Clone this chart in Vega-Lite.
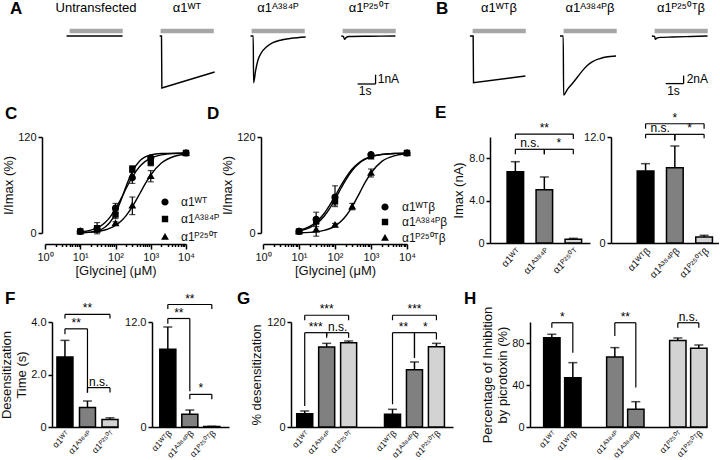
{
"$schema": "https://vega.github.io/schema/vega-lite/v6.json",
"background": "white",
"padding": {"left": 0, "top": 0, "right": 0, "bottom": 0},
"bounds": "flush",
"spacing": 293,
"resolve": {"scale": {"shape": "independent"}, "legend": {"shape": "independent"}},
"config": {
  "view": {"stroke": null},
  "font": "Liberation Sans",
  "axis": {"domainColor": "black", "domainWidth": 1.5, "tickColor": "black", "tickWidth": 1.5, "tickSize": 4, "labelFont": "Liberation Sans", "labelFontSize": 11, "labelColor": "#111", "labelPadding": 2, "labelOverlap": false, "labelSeparation": 0, "labelBound": false, "titleFont": "Liberation Sans", "titleFontSize": 13, "titleFontWeight": "normal", "titleColor": "#111", "titlePadding": 3, "grid": false},
  "title": {"anchor": "start", "frame": "group", "font": "Liberation Sans", "fontSize": 17, "fontWeight": "bold", "color": "black", "baseline": "bottom"},
  "text": {"font": "Liberation Sans", "color": "black"}
},
"datasets": {
  "traces": [
    {"p":"U","t":-0.17,"i":0},{"p":"U","t":2.94,"i":0},
    {"p":"W","t":-0.05,"i":0},{"p":"W","t":0.05,"i":0},{"p":"W","t":0.07,"i":-5.59},{"p":"W","t":3.0,"i":-3.87},
    {"p":"A","t":-0.06,"i":0},{"p":"A","t":0.09,"i":0},{"p":"A","t":0.11,"i":-5.02},{"p":"A","t":0.22,"i":-3.76},{"p":"A","t":0.35,"i":-2.61},{"p":"A","t":0.54,"i":-1.8},{"p":"A","t":0.82,"i":-1.18},{"p":"A","t":1.18,"i":-0.72},{"p":"A","t":1.65,"i":-0.43},{"p":"A","t":2.2,"i":-0.25},{"p":"A","t":3.0,"i":-0.11},
    {"p":"P","t":-0.07,"i":0},{"p":"P","t":0.04,"i":-0.05},{"p":"P","t":0.11,"i":-0.36},{"p":"P","t":0.2,"i":-0.15},{"p":"P","t":0.35,"i":-0.06},{"p":"P","t":1.5,"i":-0.03},{"p":"P","t":2.93,"i":0},
    {"p":"Wb","t":-0.15,"i":0},{"p":"Wb","t":0.03,"i":0},{"p":"Wb","t":0.05,"i":-11.7},{"p":"Wb","t":2.93,"i":-10.0},
    {"p":"Ab","t":-0.2,"i":0},{"p":"Ab","t":-0.02,"i":0},{"p":"Ab","t":0.0,"i":-14.75},{"p":"Ab","t":0.22,"i":-13.3},{"p":"Ab","t":0.5,"i":-11.8},{"p":"Ab","t":0.78,"i":-10.2},{"p":"Ab","t":1.06,"i":-8.6},{"p":"Ab","t":1.33,"i":-7.3},{"p":"Ab","t":1.61,"i":-6.4},{"p":"Ab","t":1.98,"i":-5.7},{"p":"Ab","t":2.35,"i":-5.25},{"p":"Ab","t":2.91,"i":-5.0},
    {"p":"Pb","t":-0.15,"i":0},{"p":"Pb","t":0.0,"i":-0.1},{"p":"Pb","t":0.04,"i":-0.83},{"p":"Pb","t":0.15,"i":-0.45},{"p":"Pb","t":0.3,"i":-0.35},{"p":"Pb","t":1.0,"i":-0.25},{"p":"Pb","t":2.0,"i":-0.12},{"p":"Pb","t":2.94,"i":0}
  ],
  "stim": [{"row":"A","t0":0,"t1":2.95,"i":0.54},{"row":"B","t0":0,"t1":2.95,"i":1.25}],
  "sbar": [{"row":"A","t0":0.83,"t1":1.83,"i0":-5.16,"i1":-4.16},{"row":"B","t0":0.61,"t1":1.61,"i0":-11.9,"i1":-9.9}],
  "slab": [{"row":"A","lab":"1nA","t":1.95,"i":-4.66,"k":"v"},{"row":"A","lab":"1s","t":1.25,"i":-5.37,"k":"h"},{"row":"B","lab":"2nA","t":1.78,"i":-10.7,"k":"v"},{"row":"B","lab":"1s","t":1.05,"i":-12.5,"k":"h"}],
  "curvesC": [
    {"g":"α1ᵂᵀ","c":10,"v":1.2},{"g":"α1ᵂᵀ","c":20,"v":3.5},{"g":"α1ᵂᵀ","c":30,"v":6.3},{"g":"α1ᵂᵀ","c":50,"v":12.9},{"g":"α1ᵂᵀ","c":70,"v":19.9},{"g":"α1ᵂᵀ","c":100,"v":30.1},{"g":"α1ᵂᵀ","c":150,"v":44.5},{"g":"α1ᵂᵀ","c":200,"v":55.6},{"g":"α1ᵂᵀ","c":300,"v":70.0},{"g":"α1ᵂᵀ","c":500,"v":83.7},{"g":"α1ᵂᵀ","c":700,"v":89.6},{"g":"α1ᵂᵀ","c":1000,"v":93.7},{"g":"α1ᵂᵀ","c":2000,"v":97.7},{"g":"α1ᵂᵀ","c":5000,"v":99.4},{"g":"α1ᵂᵀ","c":10000,"v":99.8},
    {"g":"α1ᴬ³⁸⁴ᴾ","c":10,"v":0.3},{"g":"α1ᴬ³⁸⁴ᴾ","c":20,"v":1.1},{"g":"α1ᴬ³⁸⁴ᴾ","c":30,"v":2.5},{"g":"α1ᴬ³⁸⁴ᴾ","c":50,"v":7.1},{"g":"α1ᴬ³⁸⁴ᴾ","c":70,"v":13.4},{"g":"α1ᴬ³⁸⁴ᴾ","c":100,"v":24.7},{"g":"α1ᴬ³⁸⁴ᴾ","c":150,"v":43.5},{"g":"α1ᴬ³⁸⁴ᴾ","c":200,"v":58.4},{"g":"α1ᴬ³⁸⁴ᴾ","c":300,"v":76.7},{"g":"α1ᴬ³⁸⁴ᴾ","c":500,"v":90.6},{"g":"α1ᴬ³⁸⁴ᴾ","c":700,"v":95.1},{"g":"α1ᴬ³⁸⁴ᴾ","c":1000,"v":97.6},{"g":"α1ᴬ³⁸⁴ᴾ","c":2000,"v":99.4},{"g":"α1ᴬ³⁸⁴ᴾ","c":5000,"v":99.9},{"g":"α1ᴬ³⁸⁴ᴾ","c":10000,"v":100},
    {"g":"α1ᴾ²⁵⁰ᵀ","c":10,"v":0.4},{"g":"α1ᴾ²⁵⁰ᵀ","c":20,"v":1.1},{"g":"α1ᴾ²⁵⁰ᵀ","c":30,"v":1.9},{"g":"α1ᴾ²⁵⁰ᵀ","c":50,"v":3.8},{"g":"α1ᴾ²⁵⁰ᵀ","c":70,"v":6.0},{"g":"α1ᴾ²⁵⁰ᵀ","c":100,"v":9.5},{"g":"α1ᴾ²⁵⁰ᵀ","c":150,"v":15.6},{"g":"α1ᴾ²⁵⁰ᵀ","c":200,"v":21.7},{"g":"α1ᴾ²⁵⁰ᵀ","c":300,"v":32.9},{"g":"α1ᴾ²⁵⁰ᵀ","c":500,"v":50},{"g":"α1ᴾ²⁵⁰ᵀ","c":700,"v":61.6},{"g":"α1ᴾ²⁵⁰ᵀ","c":1000,"v":72.5},{"g":"α1ᴾ²⁵⁰ᵀ","c":2000,"v":87.4},{"g":"α1ᴾ²⁵⁰ᵀ","c":5000,"v":96.2},{"g":"α1ᴾ²⁵⁰ᵀ","c":10000,"v":98.5}
  ],
  "ptsC": [
    {"g":"α1ᵂᵀ","c":10,"v":2},{"g":"α1ᵂᵀ","c":30,"v":5},{"g":"α1ᵂᵀ","c":100,"v":31},{"g":"α1ᵂᵀ","c":300,"v":69},{"g":"α1ᵂᵀ","c":1000,"v":94},{"g":"α1ᵂᵀ","c":10000,"v":100},
    {"g":"α1ᴬ³⁸⁴ᴾ","c":10,"v":2},{"g":"α1ᴬ³⁸⁴ᴾ","c":30,"v":6},{"g":"α1ᴬ³⁸⁴ᴾ","c":100,"v":23},{"g":"α1ᴬ³⁸⁴ᴾ","c":300,"v":80},{"g":"α1ᴬ³⁸⁴ᴾ","c":1000,"v":88},{"g":"α1ᴬ³⁸⁴ᴾ","c":10000,"v":100},
    {"g":"α1ᴾ²⁵⁰ᵀ","c":10,"v":2},{"g":"α1ᴾ²⁵⁰ᵀ","c":30,"v":4},{"g":"α1ᴾ²⁵⁰ᵀ","c":100,"v":12},{"g":"α1ᴾ²⁵⁰ᵀ","c":300,"v":34},{"g":"α1ᴾ²⁵⁰ᵀ","c":1000,"v":71},{"g":"α1ᴾ²⁵⁰ᵀ","c":10000,"v":100}
  ],
  "errC": [
    {"g":"α1ᵂᵀ","c":30,"lo":2,"hi":8},{"g":"α1ᴬ³⁸⁴ᴾ","c":30,"lo":-1,"hi":13},{"g":"α1ᴾ²⁵⁰ᵀ","c":30,"lo":1,"hi":7},
    {"g":"α1ᵂᵀ","c":100,"lo":25,"hi":37},{"g":"α1ᴬ³⁸⁴ᴾ","c":100,"lo":18,"hi":28},{"g":"α1ᴾ²⁵⁰ᵀ","c":100,"lo":10,"hi":14},
    {"g":"α1ᵂᵀ","c":300,"lo":62,"hi":76},{"g":"α1ᴬ³⁸⁴ᴾ","c":300,"lo":76,"hi":84},{"g":"α1ᴾ²⁵⁰ᵀ","c":300,"lo":23,"hi":45},
    {"g":"α1ᵂᵀ","c":1000,"lo":92,"hi":96},{"g":"α1ᴬ³⁸⁴ᴾ","c":1000,"lo":84,"hi":92},{"g":"α1ᴾ²⁵⁰ᵀ","c":1000,"lo":64,"hi":78}
  ],
  "curvesD": [
    {"g":"α1ᵂᵀβ","c":10,"v":3.3},{"g":"α1ᵂᵀβ","c":20,"v":8.2},{"g":"α1ᵂᵀβ","c":30,"v":13.7},{"g":"α1ᵂᵀβ","c":50,"v":24.4},{"g":"α1ᵂᵀβ","c":70,"v":34.1},{"g":"α1ᵂᵀβ","c":100,"v":46.0},{"g":"α1ᵂᵀβ","c":150,"v":60.1},{"g":"α1ᵂᵀβ","c":200,"v":69.3},{"g":"α1ᵂᵀβ","c":300,"v":79.9},{"g":"α1ᵂᵀβ","c":500,"v":89.0},{"g":"α1ᵂᵀβ","c":700,"v":92.9},{"g":"α1ᵂᵀβ","c":1000,"v":95.5},{"g":"α1ᵂᵀβ","c":2000,"v":98.3},{"g":"α1ᵂᵀβ","c":5000,"v":99.5},{"g":"α1ᵂᵀβ","c":10000,"v":99.8},
    {"g":"α1ᴬ³⁸⁴ᴾβ","c":10,"v":2.5},{"g":"α1ᴬ³⁸⁴ᴾβ","c":20,"v":6.6},{"g":"α1ᴬ³⁸⁴ᴾβ","c":30,"v":11.2},{"g":"α1ᴬ³⁸⁴ᴾβ","c":50,"v":20.9},{"g":"α1ᴬ³⁸⁴ᴾβ","c":70,"v":30.1},{"g":"α1ᴬ³⁸⁴ᴾβ","c":100,"v":42.0},{"g":"α1ᴬ³⁸⁴ᴾβ","c":150,"v":56.6},{"g":"α1ᴬ³⁸⁴ᴾβ","c":200,"v":66.4},{"g":"α1ᴬ³⁸⁴ᴾβ","c":300,"v":78.1},{"g":"α1ᴬ³⁸⁴ᴾβ","c":500,"v":88.2},{"g":"α1ᴬ³⁸⁴ᴾβ","c":700,"v":92.4},{"g":"α1ᴬ³⁸⁴ᴾβ","c":1000,"v":95.3},{"g":"α1ᴬ³⁸⁴ᴾβ","c":2000,"v":98.2},{"g":"α1ᴬ³⁸⁴ᴾβ","c":5000,"v":99.5},{"g":"α1ᴬ³⁸⁴ᴾβ","c":10000,"v":99.8},
    {"g":"α1ᴾ²⁵⁰ᵀβ","c":10,"v":0.3},{"g":"α1ᴾ²⁵⁰ᵀβ","c":20,"v":0.8},{"g":"α1ᴾ²⁵⁰ᵀβ","c":30,"v":1.5},{"g":"α1ᴾ²⁵⁰ᵀβ","c":50,"v":3.3},{"g":"α1ᴾ²⁵⁰ᵀβ","c":70,"v":5.3},{"g":"α1ᴾ²⁵⁰ᵀβ","c":100,"v":8.7},{"g":"α1ᴾ²⁵⁰ᵀβ","c":150,"v":14.9},{"g":"α1ᴾ²⁵⁰ᵀβ","c":200,"v":21.2},{"g":"α1ᴾ²⁵⁰ᵀβ","c":300,"v":33.1},{"g":"α1ᴾ²⁵⁰ᵀβ","c":500,"v":51.5},{"g":"α1ᴾ²⁵⁰ᵀβ","c":700,"v":63.8},{"g":"α1ᴾ²⁵⁰ᵀβ","c":1000,"v":75.0},{"g":"α1ᴾ²⁵⁰ᵀβ","c":2000,"v":89.5},{"g":"α1ᴾ²⁵⁰ᵀβ","c":5000,"v":97.1},{"g":"α1ᴾ²⁵⁰ᵀβ","c":10000,"v":99.0}
  ],
  "ptsD": [
    {"g":"α1ᵂᵀβ","c":10,"v":2},{"g":"α1ᵂᵀβ","c":30,"v":17},{"g":"α1ᵂᵀβ","c":100,"v":45},{"g":"α1ᵂᵀβ","c":1000,"v":98},{"g":"α1ᵂᵀβ","c":10000,"v":100},
    {"g":"α1ᴬ³⁸⁴ᴾβ","c":10,"v":2},{"g":"α1ᴬ³⁸⁴ᴾβ","c":30,"v":15},{"g":"α1ᴬ³⁸⁴ᴾβ","c":100,"v":40},{"g":"α1ᴬ³⁸⁴ᴾβ","c":1000,"v":96},{"g":"α1ᴬ³⁸⁴ᴾβ","c":10000,"v":100},
    {"g":"α1ᴾ²⁵⁰ᵀβ","c":10,"v":2},{"g":"α1ᴾ²⁵⁰ᵀβ","c":30,"v":4},{"g":"α1ᴾ²⁵⁰ᵀβ","c":100,"v":10},{"g":"α1ᴾ²⁵⁰ᵀβ","c":300,"v":33},{"g":"α1ᴾ²⁵⁰ᵀβ","c":1000,"v":75},{"g":"α1ᴾ²⁵⁰ᵀβ","c":10000,"v":100}
  ],
  "errD": [
    {"g":"α1ᵂᵀβ","c":30,"lo":8,"hi":26},{"g":"α1ᴬ³⁸⁴ᴾβ","c":30,"lo":11,"hi":19},{"g":"α1ᴾ²⁵⁰ᵀβ","c":30,"lo":-4,"hi":12},
    {"g":"α1ᵂᵀβ","c":100,"lo":33,"hi":59},{"g":"α1ᴬ³⁸⁴ᴾβ","c":100,"lo":35,"hi":45},{"g":"α1ᴾ²⁵⁰ᵀβ","c":100,"lo":8,"hi":12},
    {"g":"α1ᴾ²⁵⁰ᵀβ","c":300,"lo":29,"hi":37},
    {"g":"α1ᵂᵀβ","c":1000,"lo":96.5,"hi":99.5},{"g":"α1ᴬ³⁸⁴ᴾβ","c":1000,"lo":94,"hi":98},{"g":"α1ᴾ²⁵⁰ᵀβ","c":1000,"lo":70,"hi":80}
  ],
  "E1": [{"g":"α1ᵂᵀ","v":"WT","m":6.73,"u":7.67},{"g":"α1ᴬ³⁸⁴ᴾ","v":"A384P","m":5.03,"u":6.23},{"g":"α1ᴾ²⁵⁰ᵀ","v":"P250T","m":0.35,"u":0.44}],
  "E2": [{"g":"α1ᵂᵀβ","v":"WT","m":8.15,"u":8.98},{"g":"α1ᴬ³⁸⁴ᴾβ","v":"A384P","m":8.53,"u":10.98},{"g":"α1ᴾ²⁵⁰ᵀβ","v":"P250T","m":0.68,"u":0.87}],
  "F1": [{"g":"α1ᵂᵀ","v":"WT","m":2.67,"u":3.30},{"g":"α1ᴬ³⁸⁴ᴾ","v":"A384P","m":0.74,"u":0.99},{"g":"α1ᴾ²⁵⁰ᵀ","v":"P250T","m":0.29,"u":0.35}],
  "F2": [{"g":"α1ᵂᵀβ","v":"WT","m":8.88,"u":11.43},{"g":"α1ᴬ³⁸⁴ᴾβ","v":"A384P","m":1.45,"u":1.94},{"g":"α1ᴾ²⁵⁰ᵀβ","v":"P250T","m":0.05,"u":0.08}],
  "G": [{"g":"α1ᵂᵀ","v":"WT","m":15.2,"u":18.3},{"g":"α1ᴬ³⁸⁴ᴾ","v":"A384P","m":91.4,"u":95.6},{"g":"α1ᴾ²⁵⁰ᵀ","v":"P250T","m":96.4,"u":98.3},{"g":"α1ᵂᵀβ","v":"WT","m":14.5,"u":20.2},{"g":"α1ᴬ³⁸⁴ᴾβ","v":"A384P","m":65.5,"u":74.3},{"g":"α1ᴾ²⁵⁰ᵀβ","v":"P250T","m":91.8,"u":95.6}],
  "H": [{"g":"α1ᵂᵀ","v":"WT","m":85.1,"u":88.3},{"g":"α1ᵂᵀβ","v":"WT","m":47,"u":61.3},{"g":"α1ᴬ³⁸⁴ᴾ","v":"A384P","m":66.7,"u":75.6},{"g":"α1ᴬ³⁸⁴ᴾβ","v":"A384P","m":16.8,"u":24.1},{"g":"α1ᴾ²⁵⁰ᵀ","v":"P250T","m":82.5,"u":84.8},{"g":"α1ᴾ²⁵⁰ᵀβ","v":"P250T","m":75,"u":78.1}],
  "E1br": [
    {"a":"α1ᵂᵀ","b":"α1ᴾ²⁵⁰ᵀ","mid":"α1ᴬ³⁸⁴ᴾ","h":false,"y":10.28,"ya":9.8,"yb":9.8,"t":"**"},
    {"a":"α1ᵂᵀ","b":"α1ᴬ³⁸⁴ᴾ","mid":"α1ᵂᵀ","h":true,"y":8.84,"ya":8.37,"yb":8.37,"t":"n.s."},
    {"a":"α1ᴬ³⁸⁴ᴾ","b":"α1ᴾ²⁵⁰ᵀ","mid":"α1ᴬ³⁸⁴ᴾ","h":true,"y":8.84,"ya":8.37,"yb":8.37,"t":"*"}
  ],
  "E2br": [
    {"a":"α1ᵂᵀβ","b":"α1ᴾ²⁵⁰ᵀβ","mid":"α1ᴬ³⁸⁴ᴾβ","h":false,"y":13.5,"ya":12.94,"yb":12.94,"t":"*"},
    {"a":"α1ᵂᵀβ","b":"α1ᴬ³⁸⁴ᴾβ","mid":"α1ᵂᵀβ","h":true,"y":12.3,"ya":11.85,"yb":11.6,"t":"n.s."},
    {"a":"α1ᴬ³⁸⁴ᴾβ","b":"α1ᴾ²⁵⁰ᵀβ","mid":"α1ᴬ³⁸⁴ᴾβ","h":true,"y":12.3,"ya":11.6,"yb":11.85,"t":"*"}
  ],
  "F1br": [
    {"a":"α1ᵂᵀ","b":"α1ᴾ²⁵⁰ᵀ","mid":"α1ᴬ³⁸⁴ᴾ","h":false,"y":4.29,"ya":4.13,"yb":4.13,"t":"**"},
    {"a":"α1ᵂᵀ","b":"α1ᴬ³⁸⁴ᴾ","mid":"α1ᵂᵀ","h":true,"y":3.74,"ya":3.53,"yb":1.31,"t":"**"},
    {"a":"α1ᴬ³⁸⁴ᴾ","b":"α1ᴾ²⁵⁰ᵀ","mid":"α1ᴬ³⁸⁴ᴾ","h":true,"y":1.5,"ya":1.31,"yb":1.31,"t":"n.s."}
  ],
  "F2br": [
    {"a":"α1ᵂᵀβ","b":"α1ᴾ²⁵⁰ᵀβ","mid":"α1ᴬ³⁸⁴ᴾβ","h":false,"y":14.0,"ya":13.5,"yb":13.5,"t":"**"},
    {"a":"α1ᵂᵀβ","b":"α1ᴬ³⁸⁴ᴾβ","mid":"α1ᵂᵀβ","h":true,"y":12.4,"ya":11.8,"yb":4.1,"t":"**"},
    {"a":"α1ᴬ³⁸⁴ᴾβ","b":"α1ᴾ²⁵⁰ᵀβ","mid":"α1ᴬ³⁸⁴ᴾβ","h":true,"y":3.73,"ya":3.16,"yb":3.16,"t":"*"}
  ],
  "Gbr": [
    {"a":"α1ᵂᵀ","b":"α1ᴾ²⁵⁰ᵀ","mid":"α1ᴬ³⁸⁴ᴾ","h":false,"y":127.7,"ya":122,"yb":122,"t":"***"},
    {"a":"α1ᵂᵀ","b":"α1ᴬ³⁸⁴ᴾ","mid":"α1ᵂᵀ","h":true,"y":107.8,"ya":24,"yb":104,"t":"***"},
    {"a":"α1ᴬ³⁸⁴ᴾ","b":"α1ᴾ²⁵⁰ᵀ","mid":"α1ᴬ³⁸⁴ᴾ","h":true,"y":107.8,"ya":102,"yb":102,"t":"n.s."},
    {"a":"α1ᵂᵀβ","b":"α1ᴾ²⁵⁰ᵀβ","mid":"α1ᴬ³⁸⁴ᴾβ","h":false,"y":127.7,"ya":122,"yb":122,"t":"***"},
    {"a":"α1ᵂᵀβ","b":"α1ᴬ³⁸⁴ᴾβ","mid":"α1ᵂᵀβ","h":true,"y":107.8,"ya":26,"yb":79,"t":"**"},
    {"a":"α1ᴬ³⁸⁴ᴾβ","b":"α1ᴾ²⁵⁰ᵀβ","mid":"α1ᴬ³⁸⁴ᴾβ","h":true,"y":107.8,"ya":79,"yb":100,"t":"*"}
  ],
  "Hbr": [
    {"a":"α1ᵂᵀ","b":"α1ᵂᵀβ","mid":"α1ᵂᵀ","h":true,"y":99.3,"ya":94.6,"yb":70.8,"t":"*"},
    {"a":"α1ᴬ³⁸⁴ᴾ","b":"α1ᴬ³⁸⁴ᴾβ","mid":"α1ᴬ³⁸⁴ᴾ","h":true,"y":99.3,"ya":86.7,"yb":37.5,"t":"**"},
    {"a":"α1ᴾ²⁵⁰ᵀ","b":"α1ᴾ²⁵⁰ᵀβ","mid":"α1ᴾ²⁵⁰ᵀ","h":true,"y":99.3,"ya":94.6,"yb":94.6,"t":"n.s."}
  ]
},
"vconcat": [
 {"bounds": "flush", "spacing": 108, "resolve": {"scale": {"shape": "independent"}, "legend": {"shape": "independent"}}, "vconcat": [
  {"bounds": "flush", "spacing": 31, "hconcat": [
   {"width": 32.4, "height": 10, "data": {"values": []}, "mark": "point", "title": {"text": "A", "dx": 8, "offset": 11}},
   {"width": 60, "height": 67, "title": {"text": "Untransfected", "anchor": "middle", "fontSize": 13, "fontWeight": "normal", "offset": 13.6},
    "layer": [
     {"data": {"name": "stim"}, "transform": [{"filter": "datum.row == 'A'"}], "mark": {"type": "rule", "color": "#a6a6a6", "strokeWidth": 4.5}, "encoding": {"x": {"field": "t0", "type": "quantitative", "scale": {"domain": [-0.2, 3.13], "nice": false, "zero": false}, "axis": null}, "x2": {"field": "t1"}, "y": {"field": "i", "type": "quantitative", "scale": {"domain": [-6.45, 0.75], "nice": false, "zero": false}, "axis": null}}},
     {"data": {"name": "traces"}, "transform": [{"filter": "datum.p == 'U'"}], "mark": {"type": "line", "color": "black", "strokeWidth": 1.4, "interpolate": "linear"}, "encoding": {"x": {"field": "t", "type": "quantitative", "axis": null}, "y": {"field": "i", "type": "quantitative", "axis": null}}}
    ]},
   {"width": 60, "height": 67, "title": {"text": "α1ᵂᵀ", "anchor": "middle", "fontSize": 13, "fontWeight": "normal", "offset": 13.6},
    "layer": [
     {"data": {"name": "stim"}, "transform": [{"filter": "datum.row == 'A'"}], "mark": {"type": "rule", "color": "#a6a6a6", "strokeWidth": 4.5}, "encoding": {"x": {"field": "t0", "type": "quantitative", "scale": {"domain": [-0.2, 3.13], "nice": false, "zero": false}, "axis": null}, "x2": {"field": "t1"}, "y": {"field": "i", "type": "quantitative", "scale": {"domain": [-6.45, 0.75], "nice": false, "zero": false}, "axis": null}}},
     {"data": {"name": "traces"}, "transform": [{"filter": "datum.p == 'W'"}], "mark": {"type": "line", "color": "black", "strokeWidth": 1.4, "interpolate": "linear"}, "encoding": {"x": {"field": "t", "type": "quantitative", "axis": null}, "y": {"field": "i", "type": "quantitative", "axis": null}}}
    ]},
   {"width": 60, "height": 67, "title": {"text": "α1ᴬ³⁸⁴ᴾ", "anchor": "middle", "fontSize": 13, "fontWeight": "normal", "offset": 13.6},
    "layer": [
     {"data": {"name": "stim"}, "transform": [{"filter": "datum.row == 'A'"}], "mark": {"type": "rule", "color": "#a6a6a6", "strokeWidth": 4.5}, "encoding": {"x": {"field": "t0", "type": "quantitative", "scale": {"domain": [-0.2, 3.13], "nice": false, "zero": false}, "axis": null}, "x2": {"field": "t1"}, "y": {"field": "i", "type": "quantitative", "scale": {"domain": [-6.45, 0.75], "nice": false, "zero": false}, "axis": null}}},
     {"data": {"name": "traces"}, "transform": [{"filter": "datum.p == 'A'"}], "mark": {"type": "line", "color": "black", "strokeWidth": 1.4, "interpolate": "monotone"}, "encoding": {"x": {"field": "t", "type": "quantitative", "axis": null}, "y": {"field": "i", "type": "quantitative", "axis": null}}}
    ]},
   {"width": 60, "height": 67, "title": {"text": "α1ᴾ²⁵⁰ᵀ", "anchor": "middle", "fontSize": 13, "fontWeight": "normal", "offset": 13.6},
    "layer": [
     {"data": {"name": "stim"}, "transform": [{"filter": "datum.row == 'A'"}], "mark": {"type": "rule", "color": "#a6a6a6", "strokeWidth": 4.5}, "encoding": {"x": {"field": "t0", "type": "quantitative", "scale": {"domain": [-0.2, 3.13], "nice": false, "zero": false}, "axis": null}, "x2": {"field": "t1"}, "y": {"field": "i", "type": "quantitative", "scale": {"domain": [-6.45, 0.75], "nice": false, "zero": false}, "axis": null}}},
     {"data": {"name": "traces"}, "transform": [{"filter": "datum.p == 'P'"}], "mark": {"type": "line", "color": "black", "strokeWidth": 1.4, "interpolate": "monotone"}, "encoding": {"x": {"field": "t", "type": "quantitative", "axis": null}, "y": {"field": "i", "type": "quantitative", "axis": null}}},
     {"data": {"name": "sbar"}, "transform": [{"filter": "datum.row == 'A'"}], "mark": {"type": "rule", "color": "black", "strokeWidth": 1.3}, "encoding": {"x": {"field": "t0", "type": "quantitative", "axis": null}, "x2": {"field": "t1"}, "y": {"field": "i0", "type": "quantitative", "axis": null}}},
     {"data": {"name": "sbar"}, "transform": [{"filter": "datum.row == 'A'"}], "mark": {"type": "rule", "color": "black", "strokeWidth": 1.3}, "encoding": {"x": {"field": "t1", "type": "quantitative", "axis": null}, "y": {"field": "i0", "type": "quantitative", "axis": null}, "y2": {"field": "i1"}}},
     {"data": {"name": "slab"}, "transform": [{"filter": "datum.row == 'A' && datum.k == 'v'"}], "mark": {"type": "text", "align": "left", "baseline": "middle", "fontSize": 12}, "encoding": {"x": {"field": "t", "type": "quantitative", "axis": null}, "y": {"field": "i", "type": "quantitative", "axis": null}, "text": {"field": "lab"}}},
     {"data": {"name": "slab"}, "transform": [{"filter": "datum.row == 'A' && datum.k == 'h'"}], "mark": {"type": "text", "align": "center", "baseline": "top", "fontSize": 12}, "encoding": {"x": {"field": "t", "type": "quantitative", "axis": null}, "y": {"field": "i", "type": "quantitative", "axis": null}, "text": {"field": "lab"}}}
    ]},
   {"width": 8, "height": 10, "data": {"values": []}, "mark": "point", "title": {"text": "B", "dx": 6, "offset": 11}},
   {"width": 60, "height": 67, "title": {"text": "α1ᵂᵀβ", "anchor": "middle", "fontSize": 13, "fontWeight": "normal", "offset": 13.6},
    "layer": [
     {"data": {"name": "stim"}, "transform": [{"filter": "datum.row == 'B'"}], "mark": {"type": "rule", "color": "#a6a6a6", "strokeWidth": 4.5}, "encoding": {"x": {"field": "t0", "type": "quantitative", "scale": {"domain": [-0.2, 3.13], "nice": false, "zero": false}, "axis": null}, "x2": {"field": "t1"}, "y": {"field": "i", "type": "quantitative", "scale": {"domain": [-15, 1.75], "nice": false, "zero": false}, "axis": null}}},
     {"data": {"name": "traces"}, "transform": [{"filter": "datum.p == 'Wb'"}], "mark": {"type": "line", "color": "black", "strokeWidth": 1.4, "interpolate": "linear"}, "encoding": {"x": {"field": "t", "type": "quantitative", "axis": null}, "y": {"field": "i", "type": "quantitative", "axis": null}}}
    ]},
   {"width": 60, "height": 67, "title": {"text": "α1ᴬ³⁸⁴ᴾβ", "anchor": "middle", "fontSize": 13, "fontWeight": "normal", "offset": 13.6},
    "layer": [
     {"data": {"name": "stim"}, "transform": [{"filter": "datum.row == 'B'"}], "mark": {"type": "rule", "color": "#a6a6a6", "strokeWidth": 4.5}, "encoding": {"x": {"field": "t0", "type": "quantitative", "scale": {"domain": [-0.2, 3.13], "nice": false, "zero": false}, "axis": null}, "x2": {"field": "t1"}, "y": {"field": "i", "type": "quantitative", "scale": {"domain": [-15, 1.75], "nice": false, "zero": false}, "axis": null}}},
     {"data": {"name": "traces"}, "transform": [{"filter": "datum.p == 'Ab'"}], "mark": {"type": "line", "color": "black", "strokeWidth": 1.4, "interpolate": "monotone"}, "encoding": {"x": {"field": "t", "type": "quantitative", "axis": null}, "y": {"field": "i", "type": "quantitative", "axis": null}}}
    ]},
   {"width": 60, "height": 67, "title": {"text": "α1ᴾ²⁵⁰ᵀβ", "anchor": "middle", "fontSize": 13, "fontWeight": "normal", "offset": 13.6},
    "layer": [
     {"data": {"name": "stim"}, "transform": [{"filter": "datum.row == 'B'"}], "mark": {"type": "rule", "color": "#a6a6a6", "strokeWidth": 4.5}, "encoding": {"x": {"field": "t0", "type": "quantitative", "scale": {"domain": [-0.2, 3.13], "nice": false, "zero": false}, "axis": null}, "x2": {"field": "t1"}, "y": {"field": "i", "type": "quantitative", "scale": {"domain": [-15, 1.75], "nice": false, "zero": false}, "axis": null}}},
     {"data": {"name": "traces"}, "transform": [{"filter": "datum.p == 'Pb'"}], "mark": {"type": "line", "color": "black", "strokeWidth": 1.4, "interpolate": "monotone"}, "encoding": {"x": {"field": "t", "type": "quantitative", "axis": null}, "y": {"field": "i", "type": "quantitative", "axis": null}}},
     {"data": {"name": "sbar"}, "transform": [{"filter": "datum.row == 'B'"}], "mark": {"type": "rule", "color": "black", "strokeWidth": 1.3}, "encoding": {"x": {"field": "t0", "type": "quantitative", "axis": null}, "x2": {"field": "t1"}, "y": {"field": "i0", "type": "quantitative", "axis": null}}},
     {"data": {"name": "sbar"}, "transform": [{"filter": "datum.row == 'B'"}], "mark": {"type": "rule", "color": "black", "strokeWidth": 1.3}, "encoding": {"x": {"field": "t1", "type": "quantitative", "axis": null}, "y": {"field": "i0", "type": "quantitative", "axis": null}, "y2": {"field": "i1"}}},
     {"data": {"name": "slab"}, "transform": [{"filter": "datum.row == 'B' && datum.k == 'v'"}], "mark": {"type": "text", "align": "left", "baseline": "middle", "fontSize": 12}, "encoding": {"x": {"field": "t", "type": "quantitative", "axis": null}, "y": {"field": "i", "type": "quantitative", "axis": null}, "text": {"field": "lab"}}},
     {"data": {"name": "slab"}, "transform": [{"filter": "datum.row == 'B' && datum.k == 'h'"}], "mark": {"type": "text", "align": "center", "baseline": "top", "fontSize": 12}, "encoding": {"x": {"field": "t", "type": "quantitative", "axis": null}, "y": {"field": "i", "type": "quantitative", "axis": null}, "text": {"field": "lab"}}}
    ]}
  ]},
  {"bounds": "flush", "spacing": 0, "resolve": {"scale": {"shape": "independent"}, "legend": {"shape": "independent"}}, "hconcat": [
   {"width": 43, "height": 10, "data": {"values": []}, "mark": "point", "title": {"text": "C", "dx": 3, "offset": 14}},
   {"width": 141, "height": 96,
    "encoding": {"x": {"field": "c", "type": "quantitative", "scale": {"type": "log", "domain": [1, 10000], "nice": false}, "axis": {"title": "[Glycine] (μM)", "values": [1,2,3,4,5,6,7,8,9,10,20,30,40,50,60,70,80,90,100,200,300,400,500,600,700,800,900,1000,2000,3000,4000,5000,6000,7000,8000,9000,10000], "labelExpr": "abs(log(datum.value)/LN10 - round(log(datum.value)/LN10)) < 0.001 ? '10' + ['⁰','¹','²','³','⁴'][round(log(datum.value)/LN10)] : ''", "labelOverlap": false, "labelFlush": false, "offset": 11, "tickSize": {"condition": {"test": "abs(log(datum.value)/LN10 - round(log(datum.value)/LN10)) < 0.001", "value": 5}, "value": 2.5}, "titlePadding": 2}}},
    "layer": [
     {"data": {"name": "curvesC"}, "mark": {"type": "line", "color": "black", "strokeWidth": 1.4, "interpolate": "monotone"}, "encoding": {"y": {"field": "v", "type": "quantitative", "scale": {"domain": [0, 120], "nice": false}, "axis": {"title": "I/Imax (%)", "values": [0,20,40,60,80,100,120], "labelOverlap": false, "offset": 3, "titlePadding": 2}}, "detail": {"field": "g"}}},
     {"data": {"name": "errC"}, "mark": {"type": "rule", "color": "black", "strokeWidth": 1.2}, "encoding": {"y": {"field": "lo", "type": "quantitative"}, "y2": {"field": "hi"}}},
     {"data": {"name": "errC"}, "mark": {"type": "tick", "orient": "horizontal", "color": "black", "thickness": 1.2, "size": 6}, "encoding": {"y": {"field": "lo", "type": "quantitative"}}},
     {"data": {"name": "errC"}, "mark": {"type": "tick", "orient": "horizontal", "color": "black", "thickness": 1.2, "size": 6}, "encoding": {"y": {"field": "hi", "type": "quantitative"}}},
     {"data": {"name": "ptsC"}, "mark": {"type": "point", "filled": true, "size": 135, "color": "black", "opacity": 1}, "encoding": {"y": {"field": "v", "type": "quantitative"}, "shape": {"field": "g", "type": "nominal", "scale": {"domain": ["α1ᵂᵀ","α1ᴬ³⁸⁴ᴾ","α1ᴾ²⁵⁰ᵀ"], "range": ["M-1.4,0H1.4M0.62,0A0.62,0.62,0,1,1,-0.62,0A0.62,0.62,0,1,1,0.62,0Z", "M-1.4,0H1.4M-0.55,-0.55H0.55V0.55H-0.55Z", "M-1.4,0H1.4M0,-0.7L0.68,0.48H-0.68Z"]}, "legend": {"title": null, "orient": "none", "legendX": 113, "legendY": 58, "labelFontSize": 12, "labelColor": "#111", "symbolSize": 135, "symbolStrokeColor": "black", "symbolStrokeWidth": 1.5, "symbolFillColor": "black", "rowPadding": 3, "labelOffset": 9, "padding": 0}}}}
    ]},
   {"width": 77, "height": 10, "data": {"values": []}, "mark": "point", "title": {"text": "D", "dx": 21, "offset": 14}},
   {"width": 144, "height": 96,
    "encoding": {"x": {"field": "c", "type": "quantitative", "scale": {"type": "log", "domain": [1, 10000], "nice": false}, "axis": {"title": "[Glycine] (μM)", "values": [1,2,3,4,5,6,7,8,9,10,20,30,40,50,60,70,80,90,100,200,300,400,500,600,700,800,900,1000,2000,3000,4000,5000,6000,7000,8000,9000,10000], "labelExpr": "abs(log(datum.value)/LN10 - round(log(datum.value)/LN10)) < 0.001 ? '10' + ['⁰','¹','²','³','⁴'][round(log(datum.value)/LN10)] : ''", "labelOverlap": false, "labelFlush": false, "offset": 11, "tickSize": {"condition": {"test": "abs(log(datum.value)/LN10 - round(log(datum.value)/LN10)) < 0.001", "value": 5}, "value": 2.5}, "titlePadding": 2}}},
    "layer": [
     {"data": {"name": "curvesD"}, "mark": {"type": "line", "color": "black", "strokeWidth": 1.4, "interpolate": "monotone"}, "encoding": {"y": {"field": "v", "type": "quantitative", "scale": {"domain": [0, 120], "nice": false}, "axis": {"title": "I/Imax (%)", "values": [0,20,40,60,80,100,120], "labelOverlap": false, "offset": 2, "titlePadding": 2}}, "detail": {"field": "g"}}},
     {"data": {"name": "errD"}, "mark": {"type": "rule", "color": "black", "strokeWidth": 1.2}, "encoding": {"y": {"field": "lo", "type": "quantitative"}, "y2": {"field": "hi"}}},
     {"data": {"name": "errD"}, "mark": {"type": "tick", "orient": "horizontal", "color": "black", "thickness": 1.2, "size": 6}, "encoding": {"y": {"field": "lo", "type": "quantitative"}}},
     {"data": {"name": "errD"}, "mark": {"type": "tick", "orient": "horizontal", "color": "black", "thickness": 1.2, "size": 6}, "encoding": {"y": {"field": "hi", "type": "quantitative"}}},
     {"data": {"name": "ptsD"}, "mark": {"type": "point", "filled": true, "size": 135, "color": "black", "opacity": 1}, "encoding": {"y": {"field": "v", "type": "quantitative"}, "shape": {"field": "g", "type": "nominal", "scale": {"domain": ["α1ᵂᵀβ","α1ᴬ³⁸⁴ᴾβ","α1ᴾ²⁵⁰ᵀβ"], "range": ["M-1.4,0H1.4M0.62,0A0.62,0.62,0,1,1,-0.62,0A0.62,0.62,0,1,1,0.62,0Z", "M-1.4,0H1.4M-0.55,-0.55H0.55V0.55H-0.55Z", "M-1.4,0H1.4M0,-0.7L0.68,0.48H-0.68Z"]}, "legend": {"title": null, "orient": "none", "legendX": 115, "legendY": 63, "labelFontSize": 12, "labelColor": "#111", "symbolSize": 135, "symbolStrokeColor": "black", "symbolStrokeWidth": 1.5, "symbolFillColor": "black", "rowPadding": 1, "labelOffset": 10, "padding": 0}}}}
    ]},
   {"width": 83, "height": 10, "data": {"values": []}, "mark": "point", "title": {"text": "E", "dx": 28, "offset": 15.5}},
   {"width": 100, "height": 106, "layer": [
     {"data": {"name": "E1"}, "mark": {"type": "bar", "stroke": "black", "strokeWidth": 1.5}, "encoding": {
       "x": {"field": "g", "type": "nominal", "sort": null, "scale": {"domain": ["α1ᵂᵀ","α1ᴬ³⁸⁴ᴾ","α1ᴾ²⁵⁰ᵀ"], "paddingInner": 0.43, "paddingOuter": 0.44, "align": 0.67}, "axis": {"title": null, "labelAngle": -45, "ticks": false, "labelPadding": 3, "labelFontSize": 10}},
       "y": {"field": "m", "type": "quantitative", "scale": {"domain": [0, 10], "nice": false}, "axis": {"title": "Imax (nA)", "values": [0,2,4,6,8,10], "labelOverlap": false, "labelExpr": "datum.value == 0 ? '0' : format(datum.value, '.1f')"}},
       "fill": {"field": "v", "type": "nominal", "scale": {"domain": ["WT","A384P","P250T"], "range": ["#000000","#808080","#d3d3d3"]}, "legend": null}}},
     {"data": {"name": "E1"}, "mark": {"type": "rule", "color": "black", "strokeWidth": 1.5}, "encoding": {"x": {"field": "g", "type": "nominal", "bandPosition": 0.5}, "y": {"field": "m", "type": "quantitative"}, "y2": {"field": "u"}}},
     {"data": {"name": "E1"}, "mark": {"type": "tick", "color": "black", "thickness": 1.5, "size": 9}, "encoding": {"x": {"field": "g", "type": "nominal", "bandPosition": 0.5}, "y": {"field": "u", "type": "quantitative"}}},
     {"data": {"name": "E1br"}, "mark": {"type": "rule", "color": "black", "strokeWidth": 1.2}, "encoding": {"x": {"field": "a", "type": "nominal", "bandPosition": 0.5}, "x2": {"field": "b", "bandPosition": 0.5}, "y": {"field": "y", "type": "quantitative"}}},
     {"data": {"name": "E1br"}, "mark": {"type": "rule", "color": "black", "strokeWidth": 1.2}, "encoding": {"x": {"field": "a", "type": "nominal", "bandPosition": 0.5}, "y": {"field": "y", "type": "quantitative"}, "y2": {"field": "ya"}}},
     {"data": {"name": "E1br"}, "mark": {"type": "rule", "color": "black", "strokeWidth": 1.2}, "encoding": {"x": {"field": "b", "type": "nominal", "bandPosition": 0.5}, "y": {"field": "y", "type": "quantitative"}, "y2": {"field": "yb"}}},
     {"data": {"name": "E1br"}, "transform": [{"filter": "!datum.h"}], "mark": {"type": "text", "baseline": "alphabetic", "dy": -2, "fontSize": 12}, "encoding": {"x": {"field": "mid", "type": "nominal", "bandPosition": 0.5}, "y": {"field": "y", "type": "quantitative"}, "text": {"field": "t"}}},
     {"data": {"name": "E1br"}, "transform": [{"filter": "datum.h"}], "mark": {"type": "text", "baseline": "alphabetic", "dy": -2, "fontSize": 12}, "encoding": {"x": {"field": "mid", "type": "nominal", "bandPosition": 1.377}, "y": {"field": "y", "type": "quantitative"}, "text": {"field": "t"}}}
   ]},
   {"width": 21, "height": 10, "data": {"values": []}, "mark": "point"},
   {"width": 108, "height": 106, "layer": [
     {"data": {"name": "E2"}, "mark": {"type": "bar", "stroke": "black", "strokeWidth": 1.5}, "encoding": {
       "x": {"field": "g", "type": "nominal", "sort": null, "scale": {"domain": ["α1ᵂᵀβ","α1ᴬ³⁸⁴ᴾβ","α1ᴾ²⁵⁰ᵀβ"], "paddingInner": 0.43, "paddingOuter": 0.56, "align": 0.8}, "axis": {"title": null, "labelAngle": -45, "ticks": false, "labelPadding": 3, "labelFontSize": 10}},
       "y": {"field": "m", "type": "quantitative", "scale": {"domain": [0, 12], "nice": false}, "axis": {"title": null, "values": [0,2,4,6,8,10,12], "labelOverlap": false, "labelExpr": "datum.value == 0 ? '0' : format(datum.value, '.1f')"}},
       "fill": {"field": "v", "type": "nominal", "scale": {"domain": ["WT","A384P","P250T"], "range": ["#000000","#808080","#d3d3d3"]}, "legend": null}}},
     {"data": {"name": "E2"}, "mark": {"type": "rule", "color": "black", "strokeWidth": 1.5}, "encoding": {"x": {"field": "g", "type": "nominal", "bandPosition": 0.5}, "y": {"field": "m", "type": "quantitative"}, "y2": {"field": "u"}}},
     {"data": {"name": "E2"}, "mark": {"type": "tick", "color": "black", "thickness": 1.5, "size": 9}, "encoding": {"x": {"field": "g", "type": "nominal", "bandPosition": 0.5}, "y": {"field": "u", "type": "quantitative"}}},
     {"data": {"name": "E2br"}, "mark": {"type": "rule", "color": "black", "strokeWidth": 1.2}, "encoding": {"x": {"field": "a", "type": "nominal", "bandPosition": 0.5}, "x2": {"field": "b", "bandPosition": 0.5}, "y": {"field": "y", "type": "quantitative"}}},
     {"data": {"name": "E2br"}, "mark": {"type": "rule", "color": "black", "strokeWidth": 1.2}, "encoding": {"x": {"field": "a", "type": "nominal", "bandPosition": 0.5}, "y": {"field": "y", "type": "quantitative"}, "y2": {"field": "ya"}}},
     {"data": {"name": "E2br"}, "mark": {"type": "rule", "color": "black", "strokeWidth": 1.2}, "encoding": {"x": {"field": "b", "type": "nominal", "bandPosition": 0.5}, "y": {"field": "y", "type": "quantitative"}, "y2": {"field": "yb"}}},
     {"data": {"name": "E2br"}, "transform": [{"filter": "!datum.h"}], "mark": {"type": "text", "baseline": "alphabetic", "dy": -2, "fontSize": 12}, "encoding": {"x": {"field": "mid", "type": "nominal", "bandPosition": 0.5}, "y": {"field": "y", "type": "quantitative"}, "text": {"field": "t"}}},
     {"data": {"name": "E2br"}, "transform": [{"filter": "datum.h"}], "mark": {"type": "text", "baseline": "alphabetic", "dy": -2, "fontSize": 12}, "encoding": {"x": {"field": "mid", "type": "nominal", "bandPosition": 1.377}, "y": {"field": "y", "type": "quantitative"}, "text": {"field": "t"}}}
   ]}
  ]}
 ]},
 {"bounds": "flush", "spacing": 0, "hconcat": [
  {"width": 50, "height": 10, "data": {"values": []}, "mark": "point", "title": {"text": "F", "dx": 3, "offset": 14}},
  {"width": 66, "height": 105, "layer": [
     {"data": {"name": "F1"}, "mark": {"type": "bar", "stroke": "black", "strokeWidth": 1.5}, "encoding": {
       "x": {"field": "g", "type": "nominal", "sort": null, "scale": {"domain": ["α1ᵂᵀ","α1ᴬ³⁸⁴ᴾ","α1ᴾ²⁵⁰ᵀ"], "paddingInner": 0.29, "paddingOuter": 0.11, "align": 1}, "axis": {"title": null, "labelAngle": -45, "ticks": false, "labelPadding": 2, "labelFontSize": 9}},
       "y": {"field": "m", "type": "quantitative", "scale": {"domain": [0, 4], "nice": false}, "axis": {"title": ["Desensitization", "Time (s)"], "titleLineHeight": 15, "values": [0,1,2,3,4], "labelOverlap": false, "labelExpr": "datum.value == 0 ? '0' : format(datum.value, '.1f')", "titlePadding": 2}},
       "fill": {"field": "v", "type": "nominal", "scale": {"domain": ["WT","A384P","P250T"], "range": ["#000000","#808080","#d3d3d3"]}, "legend": null}}},
     {"data": {"name": "F1"}, "mark": {"type": "rule", "color": "black", "strokeWidth": 1.5}, "encoding": {"x": {"field": "g", "type": "nominal", "bandPosition": 0.5}, "y": {"field": "m", "type": "quantitative"}, "y2": {"field": "u"}}},
     {"data": {"name": "F1"}, "mark": {"type": "tick", "color": "black", "thickness": 1.5, "size": 9}, "encoding": {"x": {"field": "g", "type": "nominal", "bandPosition": 0.5}, "y": {"field": "u", "type": "quantitative"}}},
     {"data": {"name": "F1br"}, "mark": {"type": "rule", "color": "black", "strokeWidth": 1.2}, "encoding": {"x": {"field": "a", "type": "nominal", "bandPosition": 0.5}, "x2": {"field": "b", "bandPosition": 0.5}, "y": {"field": "y", "type": "quantitative"}}},
     {"data": {"name": "F1br"}, "mark": {"type": "rule", "color": "black", "strokeWidth": 1.2}, "encoding": {"x": {"field": "a", "type": "nominal", "bandPosition": 0.5}, "y": {"field": "y", "type": "quantitative"}, "y2": {"field": "ya"}}},
     {"data": {"name": "F1br"}, "mark": {"type": "rule", "color": "black", "strokeWidth": 1.2}, "encoding": {"x": {"field": "b", "type": "nominal", "bandPosition": 0.5}, "y": {"field": "y", "type": "quantitative"}, "y2": {"field": "yb"}}},
     {"data": {"name": "F1br"}, "transform": [{"filter": "!datum.h"}], "mark": {"type": "text", "baseline": "alphabetic", "dy": -2, "fontSize": 12}, "encoding": {"x": {"field": "mid", "type": "nominal", "bandPosition": 0.5}, "y": {"field": "y", "type": "quantitative"}, "text": {"field": "t"}}},
     {"data": {"name": "F1br"}, "transform": [{"filter": "datum.h"}], "mark": {"type": "text", "baseline": "alphabetic", "dy": -2, "fontSize": 12}, "encoding": {"x": {"field": "mid", "type": "nominal", "bandPosition": 1.204}, "y": {"field": "y", "type": "quantitative"}, "text": {"field": "t"}}}
  ]},
  {"width": 34, "height": 10, "data": {"values": []}, "mark": "point"},
  {"width": 77, "height": 105, "layer": [
     {"data": {"name": "F2"}, "mark": {"type": "bar", "stroke": "black", "strokeWidth": 1.5}, "encoding": {
       "x": {"field": "g", "type": "nominal", "sort": null, "scale": {"domain": ["α1ᵂᵀβ","α1ᴬ³⁸⁴ᴾβ","α1ᴾ²⁵⁰ᵀβ"], "paddingInner": 0.27, "paddingOuter": 0.385, "align": 0.46}, "axis": {"title": null, "labelAngle": -45, "ticks": false, "labelPadding": 2, "labelFontSize": 9}},
       "y": {"field": "m", "type": "quantitative", "scale": {"domain": [0, 12], "nice": false}, "axis": {"title": null, "values": [0,2,4,6,8,10,12], "labelOverlap": false, "labelExpr": "datum.value == 0 ? '0' : format(datum.value, '.1f')"}},
       "fill": {"field": "v", "type": "nominal", "scale": {"domain": ["WT","A384P","P250T"], "range": ["#000000","#808080","#d3d3d3"]}, "legend": null}}},
     {"data": {"name": "F2"}, "mark": {"type": "rule", "color": "black", "strokeWidth": 1.5}, "encoding": {"x": {"field": "g", "type": "nominal", "bandPosition": 0.5}, "y": {"field": "m", "type": "quantitative"}, "y2": {"field": "u"}}},
     {"data": {"name": "F2"}, "mark": {"type": "tick", "color": "black", "thickness": 1.5, "size": 9}, "encoding": {"x": {"field": "g", "type": "nominal", "bandPosition": 0.5}, "y": {"field": "u", "type": "quantitative"}}},
     {"data": {"name": "F2br"}, "mark": {"type": "rule", "color": "black", "strokeWidth": 1.2}, "encoding": {"x": {"field": "a", "type": "nominal", "bandPosition": 0.5}, "x2": {"field": "b", "bandPosition": 0.5}, "y": {"field": "y", "type": "quantitative"}}},
     {"data": {"name": "F2br"}, "mark": {"type": "rule", "color": "black", "strokeWidth": 1.2}, "encoding": {"x": {"field": "a", "type": "nominal", "bandPosition": 0.5}, "y": {"field": "y", "type": "quantitative"}, "y2": {"field": "ya"}}},
     {"data": {"name": "F2br"}, "mark": {"type": "rule", "color": "black", "strokeWidth": 1.2}, "encoding": {"x": {"field": "b", "type": "nominal", "bandPosition": 0.5}, "y": {"field": "y", "type": "quantitative"}, "y2": {"field": "yb"}}},
     {"data": {"name": "F2br"}, "transform": [{"filter": "!datum.h"}], "mark": {"type": "text", "baseline": "alphabetic", "dy": -2, "fontSize": 12}, "encoding": {"x": {"field": "mid", "type": "nominal", "bandPosition": 0.5}, "y": {"field": "y", "type": "quantitative"}, "text": {"field": "t"}}},
     {"data": {"name": "F2br"}, "transform": [{"filter": "datum.h"}], "mark": {"type": "text", "baseline": "alphabetic", "dy": -2, "fontSize": 12}, "encoding": {"x": {"field": "mid", "type": "nominal", "bandPosition": 1.185}, "y": {"field": "y", "type": "quantitative"}, "text": {"field": "t"}}}
  ]},
  {"width": 62, "height": 10, "data": {"values": []}, "mark": "point", "title": {"text": "G", "dx": 8, "offset": 14}},
  {"width": 162, "height": 105, "layer": [
     {"data": {"name": "G"}, "mark": {"type": "bar", "stroke": "black", "strokeWidth": 1.5}, "encoding": {
       "x": {"field": "g", "type": "nominal", "sort": null, "scale": {"domain": ["α1ᵂᵀ","α1ᴬ³⁸⁴ᴾ","α1ᴾ²⁵⁰ᵀ"," ","α1ᵂᵀβ","α1ᴬ³⁸⁴ᴾβ","α1ᴾ²⁵⁰ᵀβ"], "paddingInner": 0.27, "paddingOuter": 0.325, "align": 0.4}, "axis": {"title": null, "labelAngle": -45, "ticks": false, "labelPadding": 2, "labelFontSize": 9, "values": ["α1ᵂᵀ","α1ᴬ³⁸⁴ᴾ","α1ᴾ²⁵⁰ᵀ","α1ᵂᵀβ","α1ᴬ³⁸⁴ᴾβ","α1ᴾ²⁵⁰ᵀβ"]}},
       "y": {"field": "m", "type": "quantitative", "scale": {"domain": [0, 120], "nice": false}, "axis": {"title": "% desensitization", "values": [0,20,40,60,80,100,120], "labelOverlap": false}},
       "fill": {"field": "v", "type": "nominal", "scale": {"domain": ["WT","A384P","P250T"], "range": ["#000000","#808080","#d3d3d3"]}, "legend": null}}},
     {"data": {"name": "G"}, "mark": {"type": "rule", "color": "black", "strokeWidth": 1.5}, "encoding": {"x": {"field": "g", "type": "nominal", "bandPosition": 0.5}, "y": {"field": "m", "type": "quantitative"}, "y2": {"field": "u"}}},
     {"data": {"name": "G"}, "mark": {"type": "tick", "color": "black", "thickness": 1.5, "size": 9}, "encoding": {"x": {"field": "g", "type": "nominal", "bandPosition": 0.5}, "y": {"field": "u", "type": "quantitative"}}},
     {"data": {"name": "Gbr"}, "mark": {"type": "rule", "color": "black", "strokeWidth": 1.2}, "encoding": {"x": {"field": "a", "type": "nominal", "bandPosition": 0.5}, "x2": {"field": "b", "bandPosition": 0.5}, "y": {"field": "y", "type": "quantitative"}}},
     {"data": {"name": "Gbr"}, "mark": {"type": "rule", "color": "black", "strokeWidth": 1.2}, "encoding": {"x": {"field": "a", "type": "nominal", "bandPosition": 0.5}, "y": {"field": "y", "type": "quantitative"}, "y2": {"field": "ya"}}},
     {"data": {"name": "Gbr"}, "mark": {"type": "rule", "color": "black", "strokeWidth": 1.2}, "encoding": {"x": {"field": "b", "type": "nominal", "bandPosition": 0.5}, "y": {"field": "y", "type": "quantitative"}, "y2": {"field": "yb"}}},
     {"data": {"name": "Gbr"}, "transform": [{"filter": "!datum.h"}], "mark": {"type": "text", "baseline": "alphabetic", "dy": -2, "fontSize": 12}, "encoding": {"x": {"field": "mid", "type": "nominal", "bandPosition": 0.5}, "y": {"field": "y", "type": "quantitative"}, "text": {"field": "t"}}},
     {"data": {"name": "Gbr"}, "transform": [{"filter": "datum.h"}], "mark": {"type": "text", "baseline": "alphabetic", "dy": -2, "fontSize": 12}, "encoding": {"x": {"field": "mid", "type": "nominal", "bandPosition": 1.185}, "y": {"field": "y", "type": "quantitative"}, "text": {"field": "t"}}}
  ]},
  {"width": 77, "height": 10, "data": {"values": []}, "mark": "point", "title": {"text": "H", "dx": 11, "offset": 14}},
  {"width": 177, "height": 105, "layer": [
     {"data": {"name": "H"}, "mark": {"type": "bar", "stroke": "black", "strokeWidth": 1.5}, "encoding": {
       "x": {"field": "g", "type": "nominal", "sort": null, "scale": {"domain": ["α1ᵂᵀ","α1ᵂᵀβ"," ","α1ᴬ³⁸⁴ᴾ","α1ᴬ³⁸⁴ᴾβ","  ","α1ᴾ²⁵⁰ᵀ","α1ᴾ²⁵⁰ᵀβ"], "paddingInner": 0.22, "paddingOuter": 0.325, "align": 1}, "axis": {"title": null, "labelAngle": -45, "ticks": false, "labelPadding": 2, "labelFontSize": 9, "values": ["α1ᵂᵀ","α1ᵂᵀβ","α1ᴬ³⁸⁴ᴾ","α1ᴬ³⁸⁴ᴾβ","α1ᴾ²⁵⁰ᵀ","α1ᴾ²⁵⁰ᵀβ"]}},
       "y": {"field": "m", "type": "quantitative", "scale": {"domain": [0, 100], "nice": false}, "axis": {"title": ["Percentage of Inhibition", "by picrotoxin (%)"], "titleLineHeight": 15, "values": [0,20,40,60,80,100], "labelOverlap": false, "titlePadding": 2}},
       "fill": {"field": "v", "type": "nominal", "scale": {"domain": ["WT","A384P","P250T"], "range": ["#000000","#808080","#d3d3d3"]}, "legend": null}}},
     {"data": {"name": "H"}, "mark": {"type": "rule", "color": "black", "strokeWidth": 1.5}, "encoding": {"x": {"field": "g", "type": "nominal", "bandPosition": 0.5}, "y": {"field": "m", "type": "quantitative"}, "y2": {"field": "u"}}},
     {"data": {"name": "H"}, "mark": {"type": "tick", "color": "black", "thickness": 1.5, "size": 9}, "encoding": {"x": {"field": "g", "type": "nominal", "bandPosition": 0.5}, "y": {"field": "u", "type": "quantitative"}}},
     {"data": {"name": "Hbr"}, "mark": {"type": "rule", "color": "black", "strokeWidth": 1.2}, "encoding": {"x": {"field": "a", "type": "nominal", "bandPosition": 0.5}, "x2": {"field": "b", "bandPosition": 0.5}, "y": {"field": "y", "type": "quantitative"}}},
     {"data": {"name": "Hbr"}, "mark": {"type": "rule", "color": "black", "strokeWidth": 1.2}, "encoding": {"x": {"field": "a", "type": "nominal", "bandPosition": 0.5}, "y": {"field": "y", "type": "quantitative"}, "y2": {"field": "ya"}}},
     {"data": {"name": "Hbr"}, "mark": {"type": "rule", "color": "black", "strokeWidth": 1.2}, "encoding": {"x": {"field": "b", "type": "nominal", "bandPosition": 0.5}, "y": {"field": "y", "type": "quantitative"}, "y2": {"field": "yb"}}},
     {"data": {"name": "Hbr"}, "transform": [{"filter": "datum.h"}], "mark": {"type": "text", "baseline": "alphabetic", "dy": -2, "fontSize": 12}, "encoding": {"x": {"field": "mid", "type": "nominal", "bandPosition": 1.141}, "y": {"field": "y", "type": "quantitative"}, "text": {"field": "t"}}}
  ]}
 ]}
]
}
